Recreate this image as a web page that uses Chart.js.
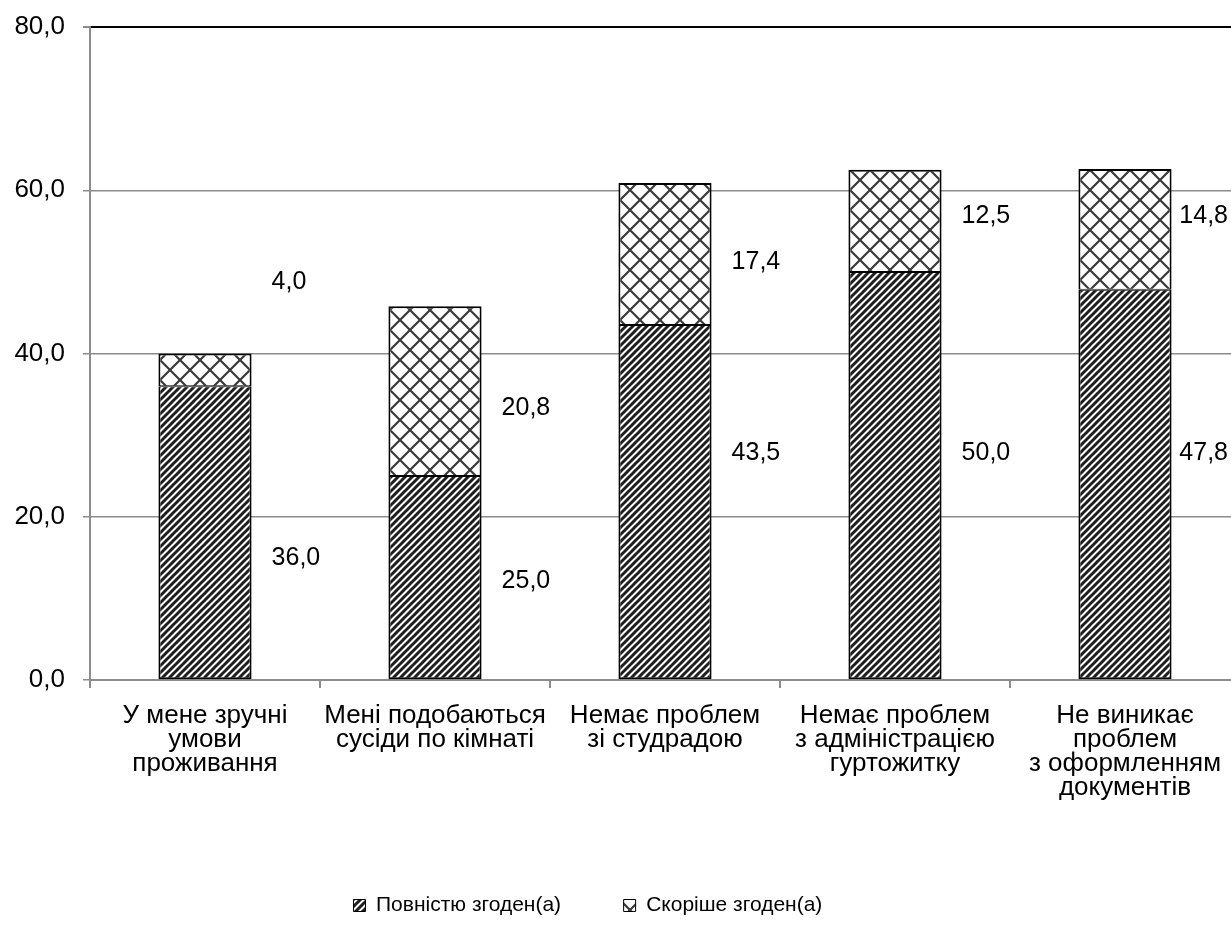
<!DOCTYPE html>
<html><head><meta charset="utf-8">
<script src="https://cdn.jsdelivr.net/npm/chart.js@4.4.0/dist/chart.umd.min.js"></script>
<style>html,body{margin:0;padding:0;background:#fff;overflow:hidden}#wrap{width:1240px;height:930px}</style>
</head><body><div id="wrap"><canvas id="c" width="1240" height="930"></canvas></div>
<script>
const categories = [
  ["У мене зручні", "умови", "проживання"],
  ["Мені подобаються", "сусіди по кімнаті"],
  ["Немає проблем", "зі студрадою"],
  ["Немає проблем", "з адміністрацією", "гуртожитку"],
  ["Не виникає", "проблем", "з оформленням", "документів"]
];
const seriesNames = ["Повністю згоден(а)", "Скоріше згоден(а)"];
const fullyAgree = [36.0, 25.0, 43.5, 50.0, 47.8];
const ratherAgree = [4.0, 20.8, 17.4, 12.5, 14.8];
const yTicks = [0, 20, 40, 60, 80];
// where each value label sits, in axis units
const fullyLabelAt = [14.9, 12.1, 27.8, 27.8, 27.8];
const ratherLabelAt = [48.8, 33.3, 51.2, 56.8, 56.8];

const FONT = "'Liberation Sans', Arial, sans-serif";
const FS_AXIS = 26;
const FS_VAL = 25;
const FS_LEG = 21;
const VISIBLE_W = 1231;
const legendSpacers = [" ".repeat(9), " ".repeat(11)];

function stripePattern() {
  const t = 7, c = document.createElement('canvas');
  c.width = t; c.height = t;
  const g = c.getContext('2d');
  g.fillStyle = '#fff'; g.fillRect(0, 0, t, t);
  g.strokeStyle = '#1e1e1e'; g.lineWidth = 3;
  g.beginPath();
  for (let k = -1; k <= 1; k++) { g.moveTo(k * t - 1, t + 1); g.lineTo(k * t + t + 1, -1); }
  g.stroke();
  return g.createPattern(c, 'repeat');
}
function crossPattern() {
  const t = 20, c = document.createElement('canvas');
  c.width = t; c.height = t;
  const g = c.getContext('2d');
  g.fillStyle = '#fff'; g.fillRect(0, 0, t, t);
  g.strokeStyle = '#3a3a3a'; g.lineWidth = 2.2;
  g.beginPath();
  g.moveTo(0, 0); g.lineTo(t, t);
  g.moveTo(0, t); g.lineTo(t, 0);
  g.stroke();
  return g.createPattern(c, 'repeat');
}
const fmt = v => v.toFixed(1).replace('.', ',');

const valueLabels = {
  id: 'valueLabels',
  afterDatasetsDraw(chart) {
    const { ctx } = chart, ys = chart.scales.y;
    ctx.save();
    ctx.font = FS_VAL + 'px ' + FONT;
    ctx.fillStyle = '#000';
    ctx.textAlign = 'left';
    ctx.textBaseline = 'middle';
    chart.data.datasets.forEach((ds, i) => {
      const meta = chart.getDatasetMeta(i);
      meta.data.forEach((bar, j) => {
        const txt = fmt(ds.data[j]);
        const w = ctx.measureText(txt).width;
        let x = bar.x + bar.width / 2 + 20;
        if (x + w > VISIBLE_W - 3) x = VISIBLE_W - 3 - w;
        ctx.fillText(txt, x, ys.getPixelForValue(ds.labelAt[j]));
      });
    });
    ctx.restore();
  }
};

new Chart(document.getElementById('c'), {
  type: 'bar',
  data: {
    labels: categories,
    datasets: [
      { label: seriesNames[0], data: fullyAgree, labelAt: fullyLabelAt, backgroundColor: stripePattern(),
        borderColor: '#000', borderWidth: { top: 1, left: 2, right: 2, bottom: 2 }, borderSkipped: false },
      { label: seriesNames[1], data: ratherAgree, labelAt: ratherLabelAt, backgroundColor: crossPattern(),
        borderColor: '#000', borderWidth: { top: 2, left: 2, right: 2, bottom: 1 }, borderSkipped: false }
    ]
  },
  options: {
    responsive: false,
    animation: false,
    devicePixelRatio: 1,
    layout: { padding: { top: 0, right: 0, left: 0, bottom: 4 } },
    datasets: { bar: { barPercentage: 0.405, categoryPercentage: 1 } },
    plugins: {
      tooltip: { enabled: false },
      legend: {
        position: 'bottom',
        labels: {
          font: { family: FONT, size: FS_LEG }, color: '#000', boxWidth: 12, boxHeight: 12, padding: 10,
          generateLabels(chart) {
            const items = Chart.defaults.plugins.legend.labels.generateLabels(chart);
            items.forEach((it, i) => { it.lineWidth = 1; it.strokeStyle = '#000'; it.text = it.text + legendSpacers[i]; });
            return items;
          }
        }
      }
    },
    scales: {
      x: {
        stacked: true,
        grid: { display: true, drawOnChartArea: false, drawTicks: true, tickLength: 8, color: '#8c8c8c', lineWidth: 2 },
        border: { color: '#8c8c8c', width: 2 },
        ticks: { font: { family: FONT, size: FS_AXIS, lineHeight: 24 / 26 }, color: '#000', padding: 16, maxRotation: 0, autoSkip: false },
        afterFit: s => { s.height = 205; }
      },
      y: {
        stacked: true, min: 0, max: 80,
        afterBuildTicks: s => { s.ticks = yTicks.map(v => ({ value: v })); },
        ticks: { font: { family: FONT, size: FS_AXIS, lineHeight: 18 / 26 }, color: '#000', padding: 18, callback: v => fmt(v) },
        grid: {
          color: c => (c.tick && c.tick.value === 80) ? '#000' : '#8c8c8c',
          lineWidth: c => (c.tick && c.tick.value === 80) ? 2 : 1.5,
          tickLength: 7, tickColor: '#8c8c8c'
        },
        border: { color: '#8c8c8c', width: 2 },
        afterFit: s => { s.width = 90; }
      }
    }
  },
  plugins: [valueLabels]
});
</script></body></html>
